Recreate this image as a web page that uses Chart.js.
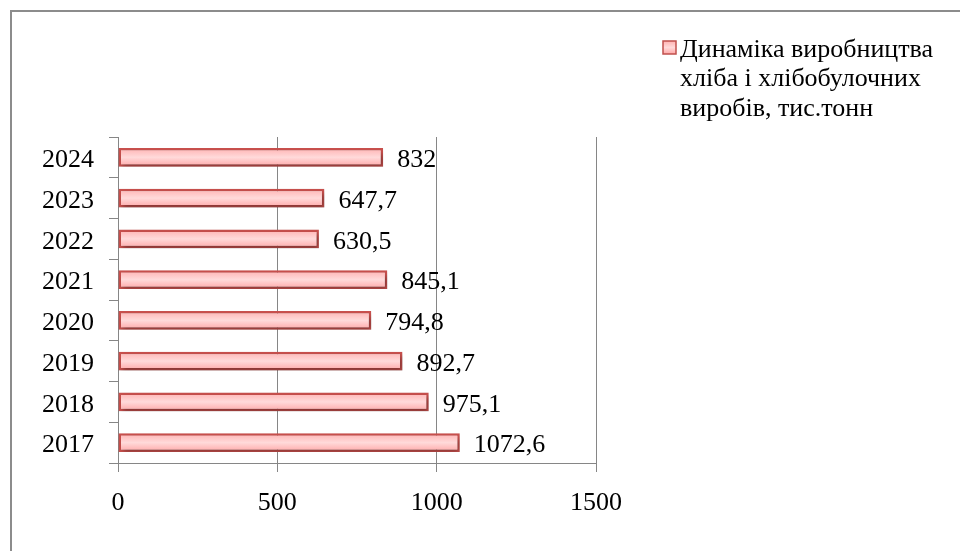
<!DOCTYPE html>
<html>
<head>
<meta charset="utf-8">
<script src="https://cdn.jsdelivr.net/npm/chart.js@4/dist/chart.umd.min.js"></script>
<style>
html,body{margin:0;padding:0;background:#fff;}
#wrap{width:960px;height:551px;position:relative;}
</style>
</head>
<body>
<div id="wrap"><canvas id="c" width="960" height="551"></canvas></div>
<script>
const categories = ['2017','2018','2019','2020','2021','2022','2023','2024'];
const values = [1072.6, 975.1, 892.7, 794.8, 845.1, 630.5, 647.7, 832];
const valueLabels = ['1072,6','975,1','892,7','794,8','845,1','630,5','647,7','832'];
const xTickValues = [0, 500, 1000, 1500];
const seriesName = 'Динаміка виробництва хліба і хлібобулочних виробів, тис.тонн';
const legendLines = ['Динаміка виробництва', 'хліба і хлібобулочних', 'виробів, тис.тонн'];

const FONT = '"Liberation Serif", "Times New Roman", serif';
const BAR_PCT = 0.46;

function makeGrad(c, y0, y1) {
  const g = c.createLinearGradient(0, y0, 0, y1);
  g.addColorStop(0, '#ffb2b2');
  g.addColorStop(0.5, '#ffdada');
  g.addColorStop(1, '#ffa6a6');
  return g;
}

function barFill(ctx) {
  const chart = ctx.chart;
  const ys = chart.scales.y;
  if (!ys || ctx.dataIndex === undefined) return '#ffc8c8';
  const yc = ys.getPixelForValue(ctx.dataIndex);
  const step = Math.abs(ys.getPixelForValue(1) - ys.getPixelForValue(0));
  const h = step * BAR_PCT / 2;
  if (!isFinite(yc) || !isFinite(h) || h === 0) return '#ffc8c8';
  return makeGrad(chart.ctx, yc - h, yc + h);
}

const framePlugin = {
  id: 'frame',
  beforeDraw(chart) {
    const c = chart.ctx;
    c.save();
    c.fillStyle = '#fff';
    c.fillRect(0, 0, chart.width, chart.height);
    c.strokeStyle = '#8c8c8c';
    c.lineWidth = 2;
    c.beginPath();
    c.moveTo(11, chart.height);
    c.lineTo(11, 11);
    c.lineTo(chart.width, 11);
    c.stroke();
    c.restore();
  }
};

const shadowPlugin = {
  id: 'barShadow',
  beforeDatasetDraw(chart) {
    const c = chart.ctx;
    c.save();
    c.shadowColor = 'rgba(0,0,0,0.35)';
    c.shadowBlur = 5;
    c.shadowOffsetX = 2;
    c.shadowOffsetY = 3;
  },
  afterDatasetDraw(chart) {
    chart.ctx.restore();
  }
};

const labelPlugin = {
  id: 'valueLabels',
  afterDatasetsDraw(chart) {
    const c = chart.ctx;
    const meta = chart.getDatasetMeta(0);
    c.save();
    c.font = '26px ' + FONT;
    c.fillStyle = '#000';
    c.textAlign = 'left';
    c.textBaseline = 'middle';
    meta.data.forEach((el, i) => {
      c.fillText(valueLabels[i], el.x + 14, el.y + 3);
    });
    c.restore();
  }
};

const legendPlugin = {
  id: 'sideLegend',
  afterDraw(chart) {
    const c = chart.ctx;
    c.save();
    const bx = 663, by = 41, bs = 13;
    c.fillStyle = makeGrad(c, by, by + bs);
    c.fillRect(bx, by, bs, bs);
    c.strokeStyle = '#c0504d';
    c.lineWidth = 1.5;
    c.strokeRect(bx, by, bs, bs);
    c.font = '26px ' + FONT;
    c.fillStyle = '#000';
    c.textAlign = 'left';
    c.textBaseline = 'middle';
    legendLines.forEach((t, i) => {
      c.fillText(t, 680, 50 + i * 29.5);
    });
    c.restore();
  }
};

new Chart(document.getElementById('c'), {
  type: 'bar',
  data: {
    labels: categories,
    datasets: [{
      label: seriesName,
      data: values,
      backgroundColor: barFill,
      borderColor: '#c8504d',
      borderWidth: 2.5,
      borderSkipped: false,
      categoryPercentage: 1,
      barPercentage: BAR_PCT
    }]
  },
  options: {
    indexAxis: 'y',
    responsive: false,
    animation: false,
    layout: { padding: { top: 137, right: 364, left: 0, bottom: 0 } },
    plugins: { legend: { display: false }, tooltip: { enabled: false } },
    scales: {
      x: {
        min: 0, max: 1500,
        afterBuildTicks(s) { s.ticks = xTickValues.map(v => ({ value: v })); },
        afterFit(s) { s.height = 88; },
        ticks: { font: { family: FONT, size: 26 }, color: '#000', padding: 16, callback: v => String(v) },
        grid: { color: '#868686', lineWidth: 1, tickLength: 9, drawTicks: true },
        border: { color: '#868686', width: 1 }
      },
      y: {
        reverse: true,
        offset: true,
        afterFit(s) { s.width = 118; },
        ticks: { font: { family: FONT, size: 26 }, color: '#000', padding: 15, labelOffset: 3 },
        grid: { drawOnChartArea: false, drawTicks: true, tickLength: 9, color: '#868686', offset: true },
        border: { color: '#868686', width: 1 }
      }
    }
  },
  plugins: [framePlugin, shadowPlugin, labelPlugin, legendPlugin]
});
</script>
</body>
</html>
